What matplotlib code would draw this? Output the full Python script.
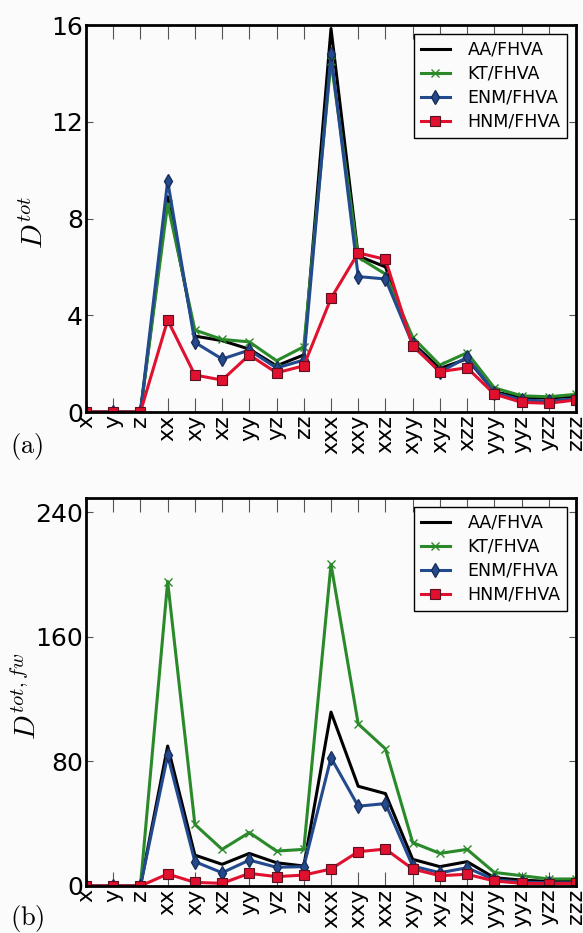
import numpy as np
import matplotlib
matplotlib.use("Agg")
import matplotlib.pyplot as plt

plt.rcParams["mathtext.fontset"] = "cm"

labels = ["x", "y", "z", "xx", "xy", "xz", "yy", "yz", "zz",
          "xxx", "xxy", "xxz", "xyy", "xyz", "xzz", "yyy", "yyz", "yzz", "zzz"]

# panel (a): D^tot
aa_a = [0, 0, 0, 8.9, 3.14, 2.95, 2.6, 1.91, 2.36, 15.85, 6.45, 6.0, 2.85, 1.8, 2.2, 0.84, 0.6, 0.58, 0.65]
kt_a = [0, 0, 0, 8.6, 3.39, 3.0, 2.9, 2.12, 2.7, 14.5, 6.4, 5.7, 3.09, 1.94, 2.45, 1.0, 0.67, 0.63, 0.73]
enm_a = [0, 0, 0, 9.55, 2.88, 2.19, 2.56, 1.82, 2.15, 14.8, 5.6, 5.5, 2.8, 1.65, 2.26, 0.8, 0.5, 0.45, 0.55]
hnm_a = [0, 0, 0, 3.8, 1.53, 1.32, 2.36, 1.62, 1.91, 4.7, 6.58, 6.31, 2.73, 1.67, 1.83, 0.74, 0.4, 0.36, 0.5]

# panel (b): D^{tot,fw}
aa_b = [0, 0, 0, 89.8, 19.8, 13.9, 20.9, 14.9, 12.8, 111.6, 64, 59.3, 17.1, 12.4, 15.6, 5.3, 3.8, 2.9, 3.0]
kt_b = [0, 0, 0, 195.4, 39.5, 23.5, 34.3, 22.4, 23.5, 206.5, 104, 88, 27.9, 20.9, 23.5, 8.7, 6.6, 4.5, 4.5]
enm_b = [0, 0, 0, 83.8, 15.6, 8.5, 16.6, 12.0, 12.4, 82.3, 51.2, 52.9, 12.8, 8.5, 11.7, 4.0, 2.5, 2.0, 2.0]
hnm_b = [0, 0, 0, 7.7, 2.3, 1.7, 8.1, 6.0, 7.0, 10.9, 22, 23.7, 10.9, 6.6, 7.5, 3.2, 1.7, 1.5, 1.7]

bg = "#fbfbfb"
green = "#2a8a2a"
blue = "#234a8e"
red = "#e0102f"

fig = plt.figure(figsize=(5.83, 9.33), dpi=100, facecolor=bg)
ax1 = fig.add_axes([0.1475, 0.5584, 0.8405, 0.4148])
ax2 = fig.add_axes([0.1475, 0.0504, 0.8405, 0.4158])

x = np.arange(len(labels))


def draw(ax, aa, kt, enm, hnm, ymax, yticks, ylabel, labx):
    ax.set_facecolor(bg)
    ax.plot(x, aa, color="black", lw=2.2, label="AA/FHVA")
    ax.plot(x, kt, color=green, lw=2.2, marker="x", ms=6, mew=1, label="KT/FHVA")
    ax.plot(x, enm, color=blue, lw=2.2, marker="d", ms=7, mec="#1a2f5a", label="ENM/FHVA")
    ax.plot(x, hnm, color=red, lw=2.2, marker="s", ms=7, mec="#5a1020", mew=0.8, label="HNM/FHVA")
    ax.set_xlim(0, 18)
    ax.set_ylim(0, ymax)
    ax.set_xticks(x)
    ax.set_xticklabels(labels, rotation=90, fontsize=16)
    ax.set_yticks(yticks)
    ax.set_yticklabels([str(t) for t in yticks], fontsize=18)
    ax.tick_params(axis="x", direction="in", length=10, width=0.8, color="#555555",
                   top=True, pad=2)
    ax.tick_params(axis="y", direction="in", length=5, width=0.8, color="#555555",
                   right=True, pad=2)
    for s in ax.spines.values():
        s.set_linewidth(2)
    ax.set_ylabel(ylabel, fontsize=21)
    ax.yaxis.set_label_coords(labx, 0.49)
    leg = ax.legend(loc="upper right", fontsize=12.5, fancybox=False, framealpha=1,
                    borderaxespad=0.5, handlelength=1.7, handletextpad=1.0,
                    labelspacing=0.35)
    leg.get_frame().set_edgecolor("black")
    leg.get_frame().set_linewidth(1)
    leg.get_frame().set_facecolor(bg)


draw(ax1, aa_a, kt_a, enm_a, hnm_a, 16, [0, 4, 8, 12, 16], r"$D^{tot}$", -0.075)
draw(ax2, aa_b, kt_b, enm_b, hnm_b, 249, [0, 80, 160, 240], r"$D^{tot,fw}$", -0.09)

fig.text(0.018, 0.521, r"$\mathrm{(a)}$", fontsize=19, va="center")
fig.text(0.018, 0.016, r"$\mathrm{(b)}$", fontsize=19, va="center")

fig.savefig("out.png", dpi=100, facecolor=bg)
